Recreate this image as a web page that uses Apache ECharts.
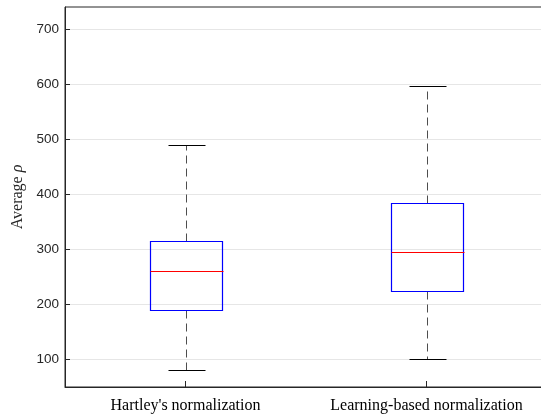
<!DOCTYPE html>
<html>
<head>
<meta charset="utf-8">
<script src="https://cdn.jsdelivr.net/npm/echarts@6/dist/echarts.min.js"></script>
<style>
html,body{margin:0;padding:0;background:#fff;}
#chart{width:541px;height:414px;}
</style>
</head>
<body>
<div id="chart"></div>
<script>
var categories = ["Hartley's normalization", "Learning-based normalization"];
var lowerWhisker = [81, 100];
var q1 = [190, 225];
var median = [260, 296];
var q3 = [316, 385];
var upperWhisker = [490, 596];
var yTicks = [100, 200, 300, 400, 500, 600, 700];

var boxData = categories.map(function (c, i) {
  return [i, lowerWhisker[i], q1[i], median[i], q3[i], upperWhisker[i]];
});

function renderBox(params, api) {
  var idx = api.value(0);
  var band = api.size([1, 0])[0];
  var boxW = band * 0.3;
  var capW = band * 0.15;
  var pLow = api.coord([idx, api.value(1)]);
  var pQ1 = api.coord([idx, api.value(2)]);
  var pMed = api.coord([idx, api.value(3)]);
  var pQ3 = api.coord([idx, api.value(4)]);
  var pHigh = api.coord([idx, api.value(5)]);
  var x = Math.round(pMed[0]) + 0.5;
  var r = function (v) { return Math.round(v) + 0.5; };
  var dashStyle = { stroke: '#4d4d4d', lineWidth: 1, lineDash: [8, 5] };
  return {
    type: 'group',
    children: [
      { type: 'line', shape: { x1: x, y1: r(pQ3[1]), x2: x, y2: r(pHigh[1]) }, style: dashStyle },
      { type: 'line', shape: { x1: x, y1: r(pQ1[1]), x2: x, y2: r(pLow[1]) }, style: dashStyle },
      { type: 'line', shape: { x1: r(x - capW / 2), y1: r(pHigh[1]), x2: r(x + capW / 2), y2: r(pHigh[1]) }, style: { stroke: '#000', lineWidth: 1 } },
      { type: 'line', shape: { x1: r(x - capW / 2), y1: r(pLow[1]), x2: r(x + capW / 2), y2: r(pLow[1]) }, style: { stroke: '#000', lineWidth: 1 } },
      { type: 'rect', shape: { x: r(x - boxW / 2), y: r(pQ3[1]), width: Math.round(boxW), height: Math.round(pQ1[1] - pQ3[1]) }, style: { fill: 'none', stroke: '#0000ff', lineWidth: 1.2 } },
      { type: 'line', shape: { x1: r(x - boxW / 2), y1: r(pMed[1]), x2: r(x + boxW / 2), y2: r(pMed[1]) }, style: { stroke: '#ff0000', lineWidth: 1.2 } }
    ]
  };
}

var chart = echarts.init(document.getElementById('chart'));
chart.setOption({
  animation: false,
  backgroundColor: '#fff',
  grid: { left: 65, top: 7, width: 482, bottom: 27, show: true, borderColor: '#262626', borderWidth: 1, containLabel: false, outerBoundsMode: 'none' },
  xAxis: {
    type: 'category',
    data: categories,
    boundaryGap: true,
    axisLine: { show: true, lineStyle: { color: '#262626' } },
    axisTick: { show: true, inside: true, length: 6, alignWithLabel: true, interval: 0, lineStyle: { color: '#262626' } },
    axisLabel: { interval: 0, color: '#000', fontFamily: 'Liberation Serif', fontSize: 16, margin: 11 },
    splitLine: { show: false }
  },
  yAxis: {
    type: 'value',
    min: 50,
    max: 740,
    interval: 100,
    axisLine: { show: true, lineStyle: { color: '#262626' } },
    axisTick: { show: true, inside: true, length: 5, lineStyle: { color: '#262626' },
      customValues: yTicks },
    axisLabel: { color: '#262626', fontFamily: 'Liberation Sans', fontSize: 13.5, margin: 6,
      customValues: yTicks },
    splitLine: { show: true, lineStyle: { color: '#e6e6e6', width: 1 } },
    name: '{a|Average }{b|ρ}',
    nameLocation: 'middle',
    nameGap: 38,
    nameTextStyle: {
      rich: {
        a: { fontFamily: 'Liberation Serif', fontSize: 16, color: '#262626' },
        b: { fontFamily: 'Liberation Serif', fontSize: 16, fontStyle: 'italic', color: '#262626' }
      }
    }
  },
  series: [{
    type: 'custom',
    renderItem: renderBox,
    data: boxData,
    encode: { x: 0, y: [1, 2, 3, 4, 5] },
    silent: true
  }]
});
</script>
</body>
</html>
